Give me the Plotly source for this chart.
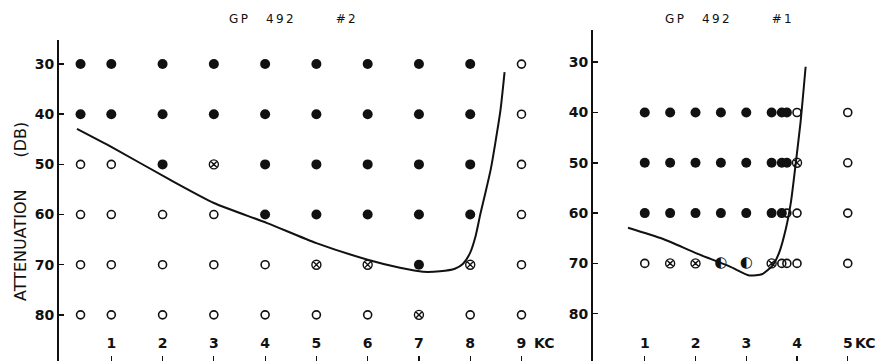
import plotly.graph_objects as go

# ---------------- data ----------------
db_levels_left = [30, 40, 50, 60, 70, 80]
freqs_left = [0.4, 1, 2, 3, 4, 5, 6, 7, 8, 9]
# F = filled, O = open, X = crossed, H = half-filled
codes_left = [
    "FFFFFFFFFO",  # 30
    "FFFFFFFFFO",  # 40
    "OOFXFFFFFO",  # 50
    "OOOOFFFFFO",  # 60
    "OOOOOXXFXO",  # 70
    "OOOOOOOXOO",  # 80
]
curve_left_f = [0.33, 1.0, 2.15, 3.0, 4.04, 5.0, 6.0, 6.63, 7.08, 7.41, 7.7, 7.86, 8.0, 8.1,
                8.2, 8.3, 8.4, 8.49, 8.59, 8.67]
curve_left_db = [42.9, 46.5, 53.1, 57.7, 61.7, 65.7, 69.0, 70.6, 71.4, 71.3, 70.8, 69.8, 67.6, 64.5,
                 59.8, 55.5, 51.0, 45.7, 39.2, 31.6]

db_levels_right = [40, 50, 60, 70]
freqs_right = [1, 1.5, 2, 2.5, 3, 3.5, 3.7, 3.8, 4.0, 5]
codes_right = [
    "FFFFFFFFOO",  # 40
    "FFFFFFFFXO",  # 50
    "FFFFFFFOOO",  # 60
    "OXXHHXOOOO",  # 70
]
curve_right_f = [0.67, 1.35, 2.02, 2.67, 3.06, 3.32, 3.52, 3.65, 3.78, 3.88, 3.97, 4.07, 4.17]
curve_right_db = [62.9, 65.1, 68.0, 70.6, 72.4, 72.1, 70.4, 67.8, 63.1, 57.8, 50.5, 41.9, 30.9]

x_ticks_left = [1, 2, 3, 4, 5, 6, 7, 8, 9]
x_ticks_right = [1, 2, 3, 4, 5]
y_ticks = [30, 40, 50, 60, 70, 80]
SP = "\u2009"
titles = ["G" + SP + "P" + "\u2003\u2002" + SP.join("492") + "\u2003\u2003\u2003\u2002" + "#" + SP + "2",
          "G" + SP + "P" + "\u2003\u2002" + SP.join("492") + "\u2003\u2003\u2003\u2002" + "#" + SP + "1"]
y_title = "ATTENUATION\u2003\u2003(DB)"

# ---------------- figure ----------------
fig = go.Figure()
BLACK = "#111111"

styles = {
    "F": dict(symbol="circle", size=10, color=BLACK, line=dict(width=0, color=BLACK)),
    "O": dict(symbol="circle-open", size=8, color=BLACK, line=dict(width=1.6, color=BLACK)),
    "X": dict(symbol="circle-x-open", size=9, color=BLACK, line=dict(width=1.4, color=BLACK)),
}


def add_points(freqs, levels, codes, xa, ya):
    for code in ["O", "X", "F"]:
        xs, ys = [], []
        for lvl, row in zip(levels, codes):
            for f, c in zip(freqs, row):
                if c == code:
                    xs.append(f)
                    ys.append(lvl)
        if xs:
            fig.add_trace(go.Scatter(x=xs, y=ys, mode="markers", marker=styles[code],
                                     xaxis=xa, yaxis=ya, showlegend=False, hoverinfo="skip"))
    xs, ys = [], []
    for lvl, row in zip(levels, codes):
        for f, c in zip(freqs, row):
            if c == "H":
                xs.append(f)
                ys.append(lvl)
    if xs:
        fig.add_trace(go.Scatter(x=xs, y=ys, mode="text", text=["◐"] * len(xs),
                                 textfont=dict(family="DejaVu Sans", size=15, color=BLACK),
                                 textposition="middle center",
                                 xaxis=xa, yaxis=ya, showlegend=False, hoverinfo="skip"))


fig.add_trace(go.Scatter(x=curve_left_f, y=curve_left_db, mode="lines",
                         line=dict(color=BLACK, width=2, shape="spline", smoothing=0.6),
                         xaxis="x", yaxis="y", showlegend=False, hoverinfo="skip"))
fig.add_trace(go.Scatter(x=curve_right_f, y=curve_right_db, mode="lines",
                         line=dict(color=BLACK, width=2, shape="spline", smoothing=0.6),
                         xaxis="x2", yaxis="y2", showlegend=False, hoverinfo="skip"))
add_points(freqs_left, db_levels_left, codes_left, "x", "y")
add_points(freqs_right, db_levels_right, codes_right, "x2", "y2")

W, H = 879, 361
tickfont = dict(family="DejaVu Sans", size=14, color=BLACK, weight="bold")

xcommon = dict(ticks="inside", ticklen=5, tickwidth=1.2, tickcolor=BLACK,
               ticklabelposition="inside", ticklabelstandoff=5,
               showline=False, showgrid=False, zeroline=False,
               tickfont=tickfont, fixedrange=True)
ycommon = dict(ticks="inside", ticklen=5, tickwidth=1.5, tickcolor=BLACK,
               showline=True, linewidth=2, linecolor=BLACK, showgrid=False, zeroline=False,
               tickfont=tickfont, tickvals=y_ticks, ticktext=[str(v) for v in y_ticks],
               fixedrange=True)

fig.update_layout(
    width=W, height=H,
    margin=dict(l=0, r=0, t=0, b=0),
    paper_bgcolor="white", plot_bgcolor="white",
    xaxis=dict(domain=[59 / W, 542 / W], range=[-0.02, 9.4], anchor="y",
               tickvals=x_ticks_left, ticktext=[str(v) for v in x_ticks_left], **xcommon),
    yaxis=dict(domain=[0, 321 / H], range=[89.2, 25.2], anchor="x", **ycommon),
    xaxis2=dict(domain=[593 / W, 864 / W], range=[-0.02, 5.32], anchor="y2",
                tickvals=x_ticks_right, ticktext=[str(v) for v in x_ticks_right], **xcommon),
    yaxis2=dict(domain=[0, 331 / H], range=[89.4, 23.6], anchor="x2", **ycommon),
)

titlefont = dict(family="DejaVu Sans", size=12, color=BLACK)
annots = [
    dict(text=titles[0], x=292 / W, y=1 - 19 / H, xref="paper", yref="paper",
         xanchor="center", yanchor="middle", showarrow=False, font=titlefont),
    dict(text=titles[1], x=728 / W, y=1 - 19 / H, xref="paper", yref="paper",
         xanchor="center", yanchor="middle", showarrow=False, font=titlefont),
    dict(text=y_title, x=20 / W, y=1 - 212 / H, xref="paper", yref="paper",
         xanchor="center", yanchor="middle",
         textangle=-90, showarrow=False, font=dict(family="DejaVu Sans", size=16, color=BLACK)),
    dict(text="KC", x=532 / W, y=1 - 343 / H, xref="paper", yref="paper",
         xanchor="left", yanchor="middle", showarrow=False, font=tickfont),
    dict(text="KC", x=878 / W, y=1 - 343 / H, xref="paper", yref="paper",
         xanchor="right", yanchor="middle", showarrow=False, font=tickfont),
]
fig.update_layout(annotations=annots)

fig.write_html("out.html", config={"displayModeBar": False, "staticPlot": True},
               post_script="document.body.style.margin='0';")
